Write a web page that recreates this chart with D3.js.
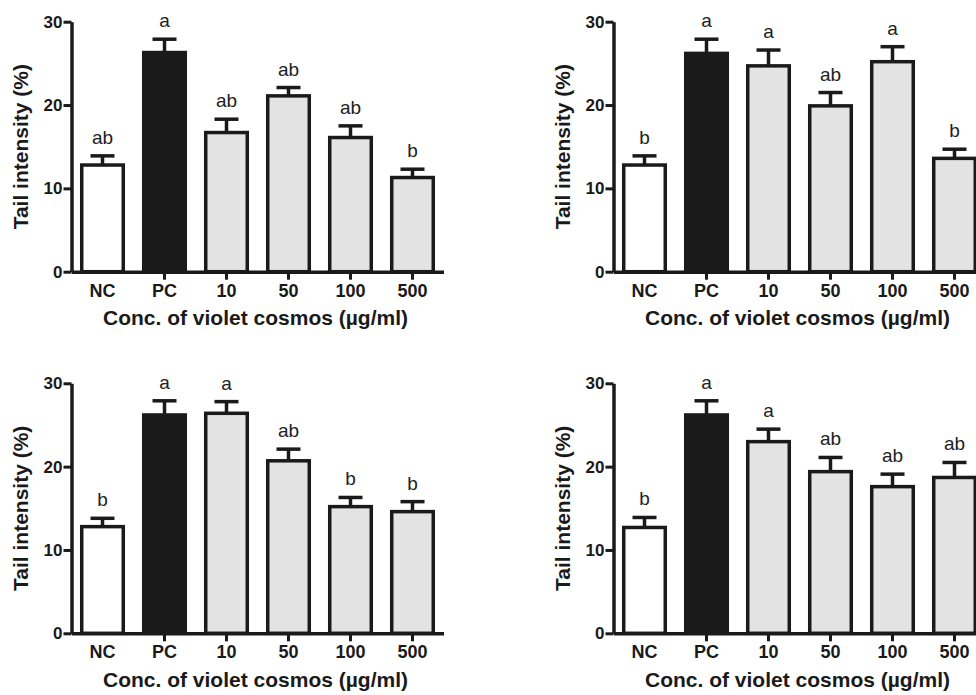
<!DOCTYPE html>
<html>
<head>
<meta charset="utf-8">
<script src="https://cdn.jsdelivr.net/npm/d3@7"></script>
<style>
  html, body { margin: 0; padding: 0; background: #fff; }
  svg { display: block; font-family: "Liberation Sans", Arial, Helvetica, sans-serif; }
</style>
</head>
<body>
<div id="chart"></div>
<script>
// tail intensity (%) per group, four panels
const categories = ["NC", "PC", "10", "50", "100", "500"];
const yTicks = [0, 10, 20, 30];

const meansA = [12.8, 26.3, 16.7, 21.1, 16.1, 11.3];
const errA   = [1.1, 1.6, 1.6, 1.0, 1.4, 1.0];
const lettersA = ["ab", "a", "ab", "ab", "ab", "b"];

const meansB = [12.8, 26.2, 24.7, 19.9, 25.2, 13.6];
const errB   = [1.1, 1.7, 1.9, 1.6, 1.8, 1.1];
const lettersB = ["b", "a", "a", "ab", "a", "b"];

const meansC = [12.8, 26.2, 26.4, 20.7, 15.2, 14.6];
const errC   = [1.0, 1.7, 1.4, 1.4, 1.1, 1.2];
const lettersC = ["b", "a", "a", "ab", "b", "b"];

const meansD = [12.7, 26.2, 23.0, 19.4, 17.6, 18.7];
const errD   = [1.2, 1.7, 1.5, 1.7, 1.5, 1.8];
const lettersD = ["b", "a", "a", "ab", "ab", "ab"];

const xTitle = "Conc. of violet cosmos (\u00b5g/ml)";
const yTitle = "Tail intensity (%)";

const W = 976, H = 695;
const ink = "#1a1a1a";

const svg = d3.select("#chart").append("svg")
    .attr("width", W)
    .attr("height", H);

// dotted light grey fill of the treated bars
let pat = svg.append("defs").append("pattern")
    .attr("id", "dots")
    .attr("patternUnits", "userSpaceOnUse")
    .attr("width", 4).attr("height", 4);
pat.append("rect").attr("width", 4).attr("height", 4).attr("fill", "#e5e5e5");
pat.append("rect").attr("x", 0).attr("y", 0).attr("width", 1).attr("height", 1).attr("fill", "#d4d4d4");
pat.append("rect").attr("x", 2).attr("y", 2).attr("width", 1).attr("height", 1).attr("fill", "#d9d9d9");

const panels = [
  {x0: 71.5,  y0: 271.7, means: meansA, err: errA, letters: lettersA},
  {x0: 613.5, y0: 271.7, means: meansB, err: errB, letters: lettersB},
  {x0: 71.5,  y0: 633.3, means: meansC, err: errC, letters: lettersC},
  {x0: 613.5, y0: 633.3, means: meansD, err: errD, letters: lettersD}
];

function fillFor(i) {
  if (i == 0) return "#ffffff";
  if (i == 1) return ink;
  return "url(#dots)";
}

panels.forEach(p => {
  let g = svg.append("g").attr("transform", `translate(${p.x0},${p.y0 - 250})`);

  let x = d3.scaleBand()
      .domain(categories)
      .range([0, 372])
      .paddingInner(0.33)
      .paddingOuter(0.165);
  let y = d3.scaleLinear().domain([0, 30]).range([250, 0]);

  let rows = categories.map((c, i) => ({
    cat: c, v: p.means[i], e: p.err[i], letter: p.letters[i], i: i
  }));

  // error bars (upper only)
  let capW = 24;
  let eb = g.selectAll("g.err").data(rows).enter().append("g").attr("class", "err");
  eb.append("line")
      .attr("x1", d => x(d.cat) + x.bandwidth() / 2)
      .attr("x2", d => x(d.cat) + x.bandwidth() / 2)
      .attr("y1", d => y(d.v))
      .attr("y2", d => y(d.v + d.e))
      .attr("stroke", ink).attr("stroke-width", 3.5);
  eb.append("line")
      .attr("x1", d => x(d.cat) + x.bandwidth() / 2 - capW / 2)
      .attr("x2", d => x(d.cat) + x.bandwidth() / 2 + capW / 2)
      .attr("y1", d => y(d.v + d.e))
      .attr("y2", d => y(d.v + d.e))
      .attr("stroke", ink).attr("stroke-width", 3.5);

  g.selectAll("rect.bar").data(rows).enter().append("rect")
      .attr("class", "bar")
      .attr("x", d => x(d.cat))
      .attr("y", d => y(d.v))
      .attr("width", x.bandwidth())
      .attr("height", d => y(0) - y(d.v))
      .attr("fill", d => fillFor(d.i))
      .attr("stroke", ink)
      .attr("stroke-width", 3.5);

  // significance letters
  g.selectAll("text.letter").data(rows).enter().append("text")
      .attr("class", "letter")
      .attr("x", d => x(d.cat) + x.bandwidth() / 2)
      .attr("y", d => y(d.v + d.e) - 12)
      .attr("text-anchor", "middle")
      .attr("font-size", 19)
      .attr("fill", "#222")
      .text(d => d.letter);

  // y axis
  let ya = g.append("g").call(d3.axisLeft(y).tickValues(yTicks).tickSize(8).tickSizeOuter(0));
  ya.select(".domain").attr("stroke", ink).attr("stroke-width", 3.5);
  ya.selectAll(".tick line").attr("stroke", ink).attr("stroke-width", 3);
  ya.selectAll(".tick text")
      .attr("x", -9)
      .attr("font-size", 17)
      .attr("font-weight", "bold")
      .attr("fill", ink)
      .attr("font-family", "Liberation Sans, Arial, sans-serif");

  // x axis
  let xa = g.append("g").attr("transform", "translate(0,250)")
      .call(d3.axisBottom(x).tickSize(8).tickSizeOuter(0));
  xa.select(".domain").attr("stroke", ink).attr("stroke-width", 3.5);
  xa.selectAll(".tick line").attr("stroke", ink).attr("stroke-width", 3)
      .attr("opacity", d => d == "NC" ? 0 : 1);
  xa.selectAll(".tick text")
      .attr("y", 25).attr("dy", 0)
      .attr("font-size", 18)
      .attr("font-weight", "bold")
      .attr("fill", ink)
      .attr("font-family", "Liberation Sans, Arial, sans-serif");

  g.append("text")
      .attr("x", 184)
      .attr("y", 250 + 53.5)
      .attr("text-anchor", "middle")
      .attr("font-size", 21)
      .attr("font-weight", "bold")
      .attr("fill", ink)
      .text(xTitle);

  g.append("text")
      .attr("transform", `translate(-43.5,125) rotate(-90)`)
      .attr("text-anchor", "middle")
      .attr("font-size", 21)
      .attr("font-weight", "bold")
      .attr("fill", ink)
      .text(yTitle);
});
</script>
</body>
</html>
